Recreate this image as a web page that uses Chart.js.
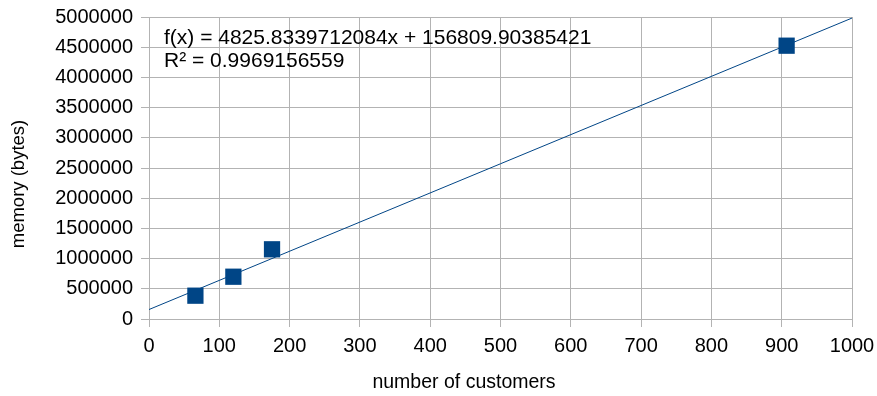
<!DOCTYPE html>
<html>
<head>
<meta charset="utf-8">
<script src="https://cdn.jsdelivr.net/npm/chart.js@4/dist/chart.umd.min.js"></script>
<style>
  html, body { margin: 0; padding: 0; background: #ffffff; }
  #wrap { width: 877px; height: 396px; }
</style>
</head>
<body>
<div id="wrap"><canvas id="c" width="877" height="396"></canvas></div>
<script>
// Measured memory usage against number of customers
const customers = [66, 120, 175, 907];
const memoryBytes = [386000, 700000, 1154000, 4525000];

// Linear trend line coefficients and fit quality
const slope = 4825.8339712084;
const intercept = 156809.90385421;
const rSquared = '0.9969156559';
const trendX = [0, 1000];

const xTicks = [0, 100, 200, 300, 400, 500, 600, 700, 800, 900, 1000];
const yTicks = [0, 500000, 1000000, 1500000, 2000000, 2500000, 3000000, 3500000, 4000000, 4500000, 5000000];

const xTitle = 'number of customers';
const yTitle = 'memory (bytes)';

const FONT = '"Liberation Sans", Arial, sans-serif';
const BLUE = '#004586';
const GRID = '#b3b3b3';

const trendPoints = trendX.map(x => ({ x: x, y: slope * x + intercept }));
const dataPoints = customers.map((x, i) => ({ x: x, y: memoryBytes[i] }));

// Equation text inside the plot, axis titles centred on the whole diagram
const annotations = {
  id: 'annotations',
  afterDatasetsDraw(chart) {
    const ctx = chart.ctx;
    const area = chart.chartArea;
    ctx.save();
    ctx.fillStyle = '#000000';
    ctx.font = '21px ' + FONT;
    ctx.textBaseline = 'middle';
    ctx.textAlign = 'left';
    ctx.fillText('f(x) = ' + slope + 'x + ' + intercept, area.left + 15, area.top + 21);
    ctx.fillText('R\u00B2 = ' + rSquared, area.left + 15, area.top + 44);
    ctx.restore();
  },
  afterDraw(chart) {
    const ctx = chart.ctx;
    ctx.save();
    ctx.fillStyle = '#000000';
    ctx.textAlign = 'center';
    ctx.textBaseline = 'middle';
    ctx.font = '19.5px ' + FONT;
    ctx.fillText(xTitle, 464, 383);
    ctx.font = '18.5px ' + FONT;
    ctx.translate(19, 184);
    ctx.rotate(-Math.PI / 2);
    ctx.fillText(yTitle, 0, 0);
    ctx.restore();
  }
};

new Chart(document.getElementById('c'), {
  type: 'scatter',
  data: {
    datasets: [
      {
        type: 'line',
        data: trendPoints,
        borderColor: BLUE,
        borderWidth: 1,
        pointRadius: 0,
        fill: false,
        order: 2
      },
      {
        data: dataPoints,
        pointStyle: 'rect',
        pointRadius: 11.5,
        pointHoverRadius: 11.5,
        backgroundColor: BLUE,
        borderColor: BLUE,
        borderWidth: 0,
        order: 1
      }
    ]
  },
  options: {
    responsive: false,
    animation: false,
    events: [],
    layout: { padding: { top: 17, right: 25, left: 0, bottom: 0 } },
    plugins: {
      legend: { display: false },
      tooltip: { enabled: false }
    },
    scales: {
      x: {
        type: 'linear',
        min: 0,
        max: 1000,
        afterBuildTicks(scale) { scale.ticks = xTicks.map(v => ({ value: v })); },
        afterFit(scale) {
          scale.height = 77;
          scale.paddingLeft = 0;
          scale.paddingRight = 0;
        },
        grid: { color: GRID, lineWidth: 1, tickLength: 8, drawTicks: true },
        border: { color: GRID, width: 1 },
        ticks: {
          color: '#000000',
          font: { family: FONT, size: 20 },
          padding: 7,
          maxRotation: 0,
          autoSkip: false,
          callback: v => String(v)
        },
        title: { display: false }
      },
      y: {
        type: 'linear',
        min: 0,
        max: 5000000,
        afterBuildTicks(scale) { scale.ticks = yTicks.map(v => ({ value: v })); },
        afterFit(scale) {
          scale.width = 149;
          scale.paddingTop = 0;
          scale.paddingBottom = 0;
        },
        grid: { color: GRID, lineWidth: 1, tickLength: 8, drawTicks: true },
        border: { color: GRID, width: 1 },
        ticks: {
          color: '#000000',
          font: { family: FONT, size: 20 },
          padding: 8,
          autoSkip: false,
          callback: v => String(v)
        },
        title: { display: false }
      }
    }
  },
  plugins: [annotations]
});
</script>
</body>
</html>
